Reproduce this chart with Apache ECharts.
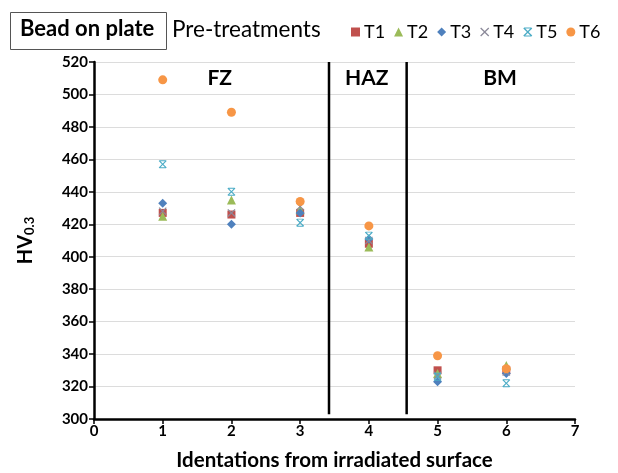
<!DOCTYPE html>
<html>
<head>
<meta charset="utf-8">
<script src="https://cdn.jsdelivr.net/npm/echarts@6/dist/echarts.min.js"></script>
<style>
  html, body { margin: 0; padding: 0; background: #fff; }
  #root { width: 618px; height: 473px; }
</style>
</head>
<body>
<div id="root"></div>
<script>
// indentation positions
var positions = [1, 2, 3, 4, 5, 6];
// hardness per pre-treatment
var T1 = [427, 426, 427, 408, 330, 330];
var T2 = [425, 435, 429, 406, 328, 333];
var T3 = [433, 420, 427, 411, 323, 328];
var T4 = [428, 427, 431, 410, 327, 329];
var T5 = [457, 440, 421, 413, 326, 322];
var T6 = [509, 489, 434, 419, 339, 331];
// zone boundaries and labels
var boundaries = [3.42, 4.55];
var zoneNames = ['FZ', 'HAZ', 'BM'];
var zoneX = [1.83, 3.97, 5.91];
var zoneY = 510;
var yTicks = [300, 520, 20];

var font = 'Lato, "Open Sans", sans-serif';

var xPath = 'path://M0,1L1,0L5,4L9,0L10,1L6,5L10,9L9,10L5,6L1,10L0,9L4,5Z';
var starPath = 'path://M0,1L1,0L5,4L9,0L10,1L6,5L10,9L9,10L5,6L1,10L0,9L4,5Z M1,0L9,0L9,1.2L1,1.2Z M1,8.8L9,8.8L9,10L1,10Z';

var seriesDefs = [
  { name: 'T1', data: T1, color: '#C0504D', symbol: 'rect', size: 8 },
  { name: 'T2', data: T2, color: '#9BBB59', symbol: 'triangle', size: 9 },
  { name: 'T3', data: T3, color: '#4F81BD', symbol: 'diamond', size: 9 },
  { name: 'T4', data: T4, color: '#8C8A9A', symbol: xPath, size: 8 },
  { name: 'T5', data: T5, color: '#4BACC6', symbol: starPath, size: 8 },
  { name: 'T6', data: T6, color: '#F79646', symbol: 'circle', size: 9 }
];

var series = seriesDefs.map(function (s) {
  return {
    name: s.name,
    type: 'scatter',
    symbol: s.symbol,
    symbolSize: s.size,
    itemStyle: { color: s.color, opacity: 1 },
    data: positions.map(function (p, i) { return [p, s.data[i]]; }),
    z: 3
  };
});

boundaries.forEach(function (b) {
  series.push({
    type: 'line',
    data: [[b, 520], [b, 303]],
    symbol: 'none',
    lineStyle: { color: '#000', width: 2.5 },
    silent: true,
    z: 2
  });
});

series.push({
  type: 'scatter',
  symbolSize: 0,
  silent: true,
  itemStyle: { opacity: 1 },
  data: zoneX.map(function (x, i) { return { value: [x, zoneY], name: zoneNames[i] }; }),
  label: {
    show: true,
    position: 'inside',
    formatter: function (p) { return p.name; },
    fontFamily: font,
    fontWeight: 'bold',
    fontSize: 21,
    color: '#000'
  }
});

var chart = echarts.init(document.getElementById('root'));
chart.setOption({
  animation: false,
  backgroundColor: '#fff',
  grid: { left: 94, right: 43, top: 62, bottom: 54, outerBoundsMode: 'none' },
  graphic: [
    { type: 'rect', left: 10, top: 12, shape: { width: 156, height: 37 },
      style: { fill: '#fff', stroke: '#555', lineWidth: 1 } },
    { type: 'text', left: 20, top: 18, style: { text: 'Bead on plate', font: 'bold 22px ' + font, fill: '#000' } },
    { type: 'text', left: 172, top: 18, style: { text: 'Pre-treatments', font: '22.5px ' + font, fill: '#000' } }
  ],
  legend: {
    data: ['T1', 'T2', 'T3', 'T4', 'T5', 'T6'],
    left: 346,
    top: 18,
    width: 272,
    itemWidth: 9,
    itemHeight: 9,
    itemGap: 9,
    textStyle: { fontFamily: font, fontSize: 18, color: '#000', padding: [0, 0, 0, -1] }
  },
  xAxis: {
    type: 'value',
    min: 0, max: 7, interval: 1,
    name: 'Identations from irradiated surface',
    nameLocation: 'middle',
    nameGap: 31,
    nameTextStyle: { fontFamily: font, fontWeight: 'bold', fontSize: 20.5, color: '#000' },
    axisLine: { lineStyle: { color: '#000', width: 2.5 } },
    axisTick: { show: true, inside: false, length: 5, lineStyle: { color: '#000', width: 1.5 } },
    axisLabel: { fontFamily: font, fontWeight: 'bold', fontSize: 15, color: '#000', margin: 5 },
    splitLine: { show: false }
  },
  yAxis: {
    type: 'value',
    min: yTicks[0], max: yTicks[1], interval: yTicks[2],
    name: '{b|HV}{s|0.3}',
    nameLocation: 'middle',
    nameGap: 58,
    nameRotate: 90,
    nameTextStyle: {
      rich: {
        b: { fontFamily: font, fontWeight: 'bold', fontSize: 20, color: '#000' },
        s: { fontFamily: font, fontWeight: 'bold', fontSize: 13, color: '#000', verticalAlign: 'bottom', padding: [8, 0, 0, 0] }
      }
    },
    axisLine: { show: true, lineStyle: { color: '#000', width: 2.5 } },
    axisTick: { show: true, length: 5, lineStyle: { color: '#000', width: 1.5 } },
    axisLabel: { fontFamily: font, fontWeight: 'bold', fontSize: 15, color: '#000', margin: 6 },
    splitLine: { show: true, lineStyle: { color: '#DCDCDC', width: 1.2 } }
  },
  series: series
});
</script>
</body>
</html>
